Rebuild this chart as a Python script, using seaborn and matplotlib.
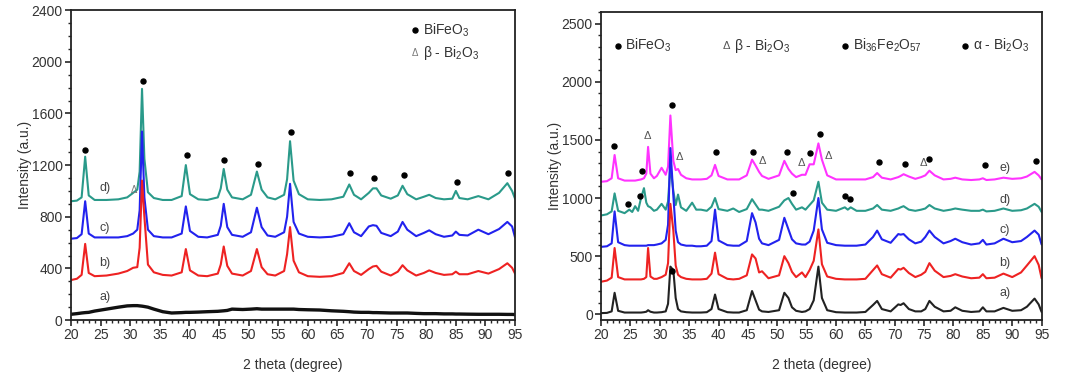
import numpy as np
import matplotlib
matplotlib.use("Agg")
import matplotlib.pyplot as plt
from matplotlib.ticker import MultipleLocator
import seaborn as sns

# ---- left panel: 2 theta grid and intensities (a.u., offsets included) ----
x_left = [20, 21, 21.8, 22.4, 23.0, 24, 26, 28, 29.5, 30.5,
          31.2, 31.6, 32.0, 32.4, 33.0, 34, 35.5, 37, 38.7, 39.4,
          40.1, 41.5, 43, 44.8, 45.3, 45.8, 46.4, 47.2, 49, 50.4,
          51.4, 52.2, 53.2, 54.5, 56.0, 56.5, 57.0, 57.6, 58.5, 60,
          62, 64, 66.0, 67.0, 67.8, 69.0, 70.3, 71.0, 71.6, 72.4,
          74, 75.2, 76.0, 76.8, 78.3, 79.6, 80.5, 81.6, 83, 84.4,
          85.0, 85.6, 87, 88.8, 90.5, 92.3, 93.7, 94.5, 95]

left_d = [920, 925, 950, 1265, 965, 930, 930, 935, 950, 985,
          1010, 1150, 1790, 1250, 990, 945, 930, 930, 960, 1200,
          975, 935, 930, 950, 1020, 1170, 1010, 950, 935, 970,
          1150, 1010, 950, 935, 970, 1090, 1385, 1080, 975, 935,
          930, 935, 955, 1050, 970, 935, 985, 1020, 1020, 965,
          940, 965, 1040, 975, 935, 955, 970, 945, 935, 940,
          1000, 945, 935, 960, 935, 985, 1060, 1000, 940]
left_c = [630, 635, 665, 920, 670, 640, 640, 640, 650, 670,
          700, 850, 1460, 950, 700, 650, 640, 640, 670, 880,
          690, 645, 640, 660, 730, 900, 720, 660, 645, 680,
          870, 720, 655, 645, 680, 800, 1055, 760, 670, 645,
          640, 645, 665, 750, 680, 650, 725, 735, 730, 675,
          650, 685, 760, 700, 650, 675, 695, 665, 645, 655,
          685, 660, 655, 700, 665, 705, 760, 725, 640]
left_b = [310, 320, 350, 590, 365, 340, 345, 360, 380, 405,
          410, 560, 1080, 800, 430, 370, 350, 345, 370, 550,
          385, 345, 340, 360, 430, 570, 420, 360, 345, 380,
          550, 410, 355, 345, 380, 510, 720, 460, 370, 340,
          335, 340, 365, 440, 380, 350, 395, 415, 420, 375,
          345, 375, 425, 385, 345, 365, 385, 365, 350, 355,
          375, 355, 355, 380, 360, 395, 440, 405, 360]
left_a = [45, 50, 55, 58, 60, 70, 85, 100, 110, 112,
          112, 110, 108, 105, 100, 85, 65, 55, 58, 60,
          60, 62, 65, 68, 70, 72, 75, 85, 82, 85,
          88, 85, 85, 85, 85, 85, 85, 85, 82, 80,
          78, 72, 68, 65, 62, 60, 60, 58, 58, 57,
          55, 55, 55, 55, 52, 50, 50, 50, 48, 48,
          47, 47, 46, 45, 45, 45, 44, 44, 43]

# ---- right panel ----
x_right = [20, 21, 21.8, 22.3, 22.9, 24, 24.8, 25.3, 25.8, 26.3,
           26.8, 27.3, 27.7, 28.0, 28.4, 29.0, 29.5, 30.3, 31.0, 31.4,
           31.8, 32.3, 32.7, 33.1, 33.6, 34.5, 35.5, 36.2, 37.0, 38.0,
           38.8, 39.4, 40.0, 41.5, 42.5, 43.5, 44.8, 45.7, 46.3, 46.9,
           47.4, 48.5, 50.3, 51.2, 51.9, 52.5, 53.2, 54.2, 54.8, 55.5,
           56.2, 57.0, 57.6, 58.5, 60, 61.5, 62.0, 62.5, 63.5, 65,
           66.3, 67.0, 67.8, 69.3, 70.6, 71.0, 71.5, 72.4, 73.5, 74.5,
           75.2, 75.9, 76.8, 78.3, 79.5, 80.3, 81.5, 83, 84.4, 85.0,
           85.6, 87, 88.5, 90.0, 91.5, 92.5, 93.8, 94.5, 95]

right_a = [10, 12, 25, 185, 30, 15, 15, 15, 15, 15,
           15, 18, 22, 35, 22, 15, 15, 18, 25, 90,
           410, 380, 140, 45, 25, 18, 15, 15, 15, 18,
           45, 170, 45, 18, 15, 15, 35, 200, 120, 40,
           25, 20, 35, 185, 140, 60, 30, 20, 25, 45,
           120, 410, 140, 35, 18, 15, 15, 15, 15, 20,
           80, 115, 45, 25, 85, 80, 95, 45, 25, 25,
           45, 115, 65, 25, 30, 60, 30, 20, 25, 60,
           25, 25, 55, 30, 35, 65, 135, 85, 20]
right_b = [280, 290, 315, 570, 320, 300, 300, 300, 300, 300,
           300, 305, 320, 570, 325, 305, 305, 320, 340, 440,
           950, 720, 420, 340, 320, 305, 300, 300, 300, 305,
           350, 530, 345, 305, 300, 305, 335, 515, 480, 360,
           370, 310, 335, 500, 440, 365, 320, 360, 320, 380,
           460, 730, 430, 325, 305, 300, 300, 300, 300, 305,
           380, 420, 345, 315, 390, 385, 400, 355, 320, 340,
           365, 440, 375, 320, 330, 345, 325, 310, 315, 345,
           310, 315, 350, 320, 360, 420, 500, 425, 310]
right_c = [580, 585, 610, 885, 620, 595, 590, 590, 590, 590,
           590, 590, 590, 595, 595, 595, 600, 610, 640, 770,
           1430, 1020, 720, 620, 600, 590, 590, 585, 585, 590,
           630, 900, 635, 595, 590, 590, 630, 870, 790, 650,
           610, 595, 640, 830, 730, 645, 610, 600, 600, 625,
           720, 1000, 730, 615, 595, 590, 590, 590, 590, 600,
           665, 720, 645, 615, 690, 685, 690, 645, 610, 625,
           665, 720, 665, 610, 630, 650, 620, 600, 610, 640,
           600, 610, 650, 620, 630, 665, 720, 685, 600]
right_d = [850, 860, 885, 1040, 890, 870, 900, 880, 930, 890,
           1000, 1085, 960, 930, 920, 890, 900, 950, 900, 970,
           1280, 1060, 940, 1030, 920, 890, 960, 900, 900, 890,
           925, 1000, 905, 890, 910, 880, 905, 990, 945, 900,
           900, 890, 925, 980, 1000, 950, 900, 920, 900, 940,
           980, 1140, 960, 900, 890, 920, 900, 920, 890, 890,
           910, 940, 900, 890, 910, 920, 930, 900, 890, 900,
           910, 940, 910, 890, 900, 910, 900, 890, 890, 900,
           885, 890, 910, 890, 895, 910, 950, 925, 880]
right_e = [1140, 1145, 1170, 1370, 1170, 1150, 1150, 1150, 1150, 1155,
           1160, 1170, 1210, 1440, 1210, 1170, 1190, 1260, 1200, 1270,
           1710, 1320, 1240, 1250, 1200, 1170, 1160, 1160, 1160, 1165,
           1195, 1285, 1190, 1160, 1160, 1160, 1195, 1330, 1280, 1225,
           1190, 1165, 1195, 1320, 1250, 1210, 1180, 1200, 1200, 1290,
           1290, 1470, 1330, 1195, 1160, 1160, 1160, 1160, 1160, 1160,
           1180, 1215, 1175, 1160, 1180, 1190, 1205, 1185, 1165, 1180,
           1195, 1235, 1195, 1160, 1165, 1175, 1160, 1155, 1160, 1170,
           1155, 1160, 1175, 1165, 1170, 1185, 1225, 1195, 1160]

# phase markers (2 theta, intensity)
left_dot_x = [22.4, 32.2, 39.6, 45.9, 51.6, 57.2, 67.2, 71.2, 76.2, 85.2, 93.8]
left_dot_y = [1320, 1850, 1280, 1240, 1210, 1460, 1140, 1100, 1120, 1070, 1140]
left_tri_x = [30.6]
left_tri_y = [1010]

right_dot_x = [22.2, 27.0, 32.0, 39.6, 45.9, 51.6, 55.5, 57.2, 67.3, 71.8, 75.9, 85.3, 94.1,
               24.6, 26.6, 52.6, 61.5, 62.4, 32.0]
right_dot_y = [1450, 1236, 1804, 1398, 1398, 1398, 1384, 1550, 1313, 1293, 1336, 1284, 1318,
               950, 1019, 1047, 1019, 990, 370]
right_tri_x = [27.9, 33.4, 47.4, 54.1, 58.7, 74.8]
right_tri_y = [1532, 1356, 1321, 1304, 1364, 1298]

sample_labels = ["a)", "b)", "c)", "d)", "e)"]
left_label_y = [178, 441, 712, 1022]
right_label_y = [185, 442, 728, 985, 1256]

sns.set_style("ticks")
plt.rcParams["font.family"] = ["Liberation Sans", "DejaVu Sans"]
plt.rcParams["mathtext.default"] = "regular"

txt = "#333333"
teal, blue, red, magenta, black = "#2a9a8a", "#2222ee", "#ee2222", "#ff33ff", "#111111"

fig = plt.figure(figsize=(10.85, 3.88), dpi=100)
axL = fig.add_axes([0.0654, 0.175, 0.4093, 0.799])
axR = fig.add_axes([0.554, 0.175, 0.406, 0.794])


def draw(ax, x, y, color, lw=1.5):
    sns.lineplot(x=x, y=y, ax=ax, color=color, lw=lw, sort=False, estimator=None)


draw(axL, x_left, left_d, teal)
draw(axL, x_left, left_c, blue)
draw(axL, x_left, left_b, red)
draw(axL, x_left, left_a, black, lw=2.4)

draw(axR, x_right, right_e, magenta)
draw(axR, x_right, right_d, teal)
draw(axR, x_right, right_c, blue)
draw(axR, x_right, right_b, red)
draw(axR, x_right, right_a, "#222222")

axL.plot(left_dot_x, left_dot_y, "o", color="black", ms=3.6)
axR.plot(right_dot_x, right_dot_y, "o", color="black", ms=3.6)
for x, y in zip(left_tri_x, left_tri_y):
    axL.text(x, y, "Δ", fontsize=7, color="#777777", ha="center", va="center")
for x, y in zip(right_tri_x, right_tri_y):
    axR.text(x, y, "Δ", fontsize=8, color="#555555", ha="center", va="center")

for lab, y in zip(sample_labels, left_label_y):
    axL.text(25.7, y, lab, fontsize=9, color="#444444", ha="center", va="center")
for lab, y in zip(sample_labels, right_label_y):
    axR.text(88.7, y, lab, fontsize=9, color="#444444", ha="center", va="center")

# in-plot legends
axL.plot([78.1], [2245], "o", color="black", ms=3.6)
axL.text(79.4, 2245, "BiFeO$_3$", fontsize=10, color=txt, va="center")
axL.text(78.1, 2066, "Δ", fontsize=7, color="#777777", ha="center", va="center")
axL.text(79.4, 2066, "β - Bi$_2$O$_3$", fontsize=10, color=txt, va="center")

axR.plot([22.8, 61.5, 81.9], [2312, 2312, 2312], "o", color="black", ms=3.6)
axR.text(24.0, 2312, "BiFeO$_3$", fontsize=10, color=txt, va="center")
axR.text(41.4, 2312, "Δ", fontsize=8, color="#555555", ha="center", va="center")
axR.text(42.6, 2312, "β - Bi$_2$O$_3$", fontsize=10, color=txt, va="center")
axR.text(62.9, 2312, "Bi$_{36}$Fe$_2$O$_{57}$", fontsize=10, color=txt, va="center")
axR.text(83.3, 2312, "α - Bi$_2$O$_3$", fontsize=10, color=txt, va="center")

for ax, ylim, major in ((axL, (0, 2400), 400), (axR, (-50, 2600), 500)):
    ax.set_xlim(20, 95)
    ax.set_ylim(*ylim)
    ax.xaxis.set_major_locator(MultipleLocator(5))
    ax.xaxis.set_minor_locator(MultipleLocator(1))
    ax.yaxis.set_major_locator(MultipleLocator(major))
    ax.yaxis.set_minor_locator(MultipleLocator(100))
    ax.tick_params(which="major", direction="out", length=4, width=1.2,
                   labelsize=10, labelcolor=txt, pad=2)
    ax.tick_params(which="minor", direction="out", length=2.5, width=1.0)
    for s in ax.spines.values():
        s.set_linewidth(1.3)
        s.set_color("#222222")
    ax.set_xlabel("2 theta (degree)", fontsize=10, color=txt, labelpad=11)
    ax.set_ylabel("Intensity (a.u.)", fontsize=10, color=txt, labelpad=0)

fig.savefig("out.png", dpi=100)
